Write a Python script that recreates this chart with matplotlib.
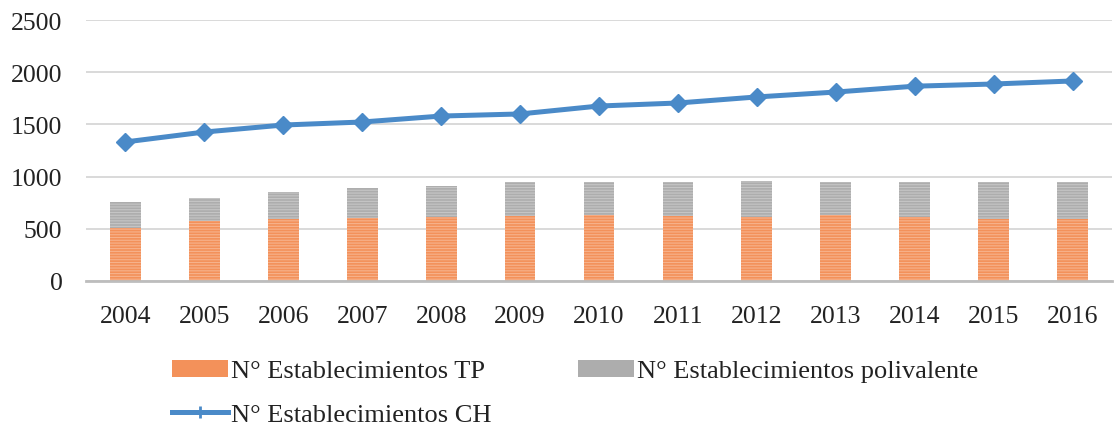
import matplotlib

matplotlib.use("Agg")
import matplotlib.pyplot as plt
import numpy as np
from matplotlib.lines import Line2D
from matplotlib.patches import Patch

years = ["2004", "2005", "2006", "2007", "2008", "2009", "2010",
         "2011", "2012", "2013", "2014", "2015", "2016"]
tp = [505, 575, 594, 603, 613, 623, 632, 623, 615, 632, 613, 594, 594]
polivalente = [252, 220, 259, 288, 297, 325, 318, 327, 340, 318, 337, 356, 356]
ch = [1332, 1427, 1494, 1523, 1580, 1600, 1676, 1705, 1763, 1810, 1866, 1887, 1916]

ORANGE = "#f3915a"
GRAY = "#adadad"
BLUE = "#4a8ac8"
TEXT = "#222222"

plt.rcParams["font.family"] = ["Liberation Serif", "DejaVu Serif"]
plt.rcParams["hatch.linewidth"] = 0.8

fig = plt.figure(figsize=(11.17, 4.27), dpi=100)
ax = fig.add_axes([0.077, 0.3396, 0.9185, 0.6112])

x = np.arange(len(years))
width = 0.39
ax.bar(x, tp, width, color=ORANGE, edgecolor=(1, 1, 1, 0.3), linewidth=0,
       hatch="------", zorder=2)
ax.bar(x, polivalente, width, bottom=tp, color=GRAY, edgecolor=(1, 1, 1, 0.3),
       linewidth=0, hatch="------", zorder=2)
ax.plot(x, ch, color=BLUE, linewidth=3.6, marker="D", markersize=9.5,
        markeredgecolor=BLUE, zorder=3)

ax.set_xlim(-0.5, len(years) - 0.5)
ax.set_ylim(0, 2500)
ax.set_yticks(np.arange(0, 2501, 500))
ax.set_xticks(x)
ax.set_xticklabels(years)
ax.tick_params(axis="both", length=0, labelsize=18.5, labelcolor=TEXT)
ax.tick_params(axis="x", pad=17)
ax.tick_params(axis="y", pad=17)
ax.grid(axis="y", color="#d9d9d9", linewidth=1.4, zorder=0)
ax.set_axisbelow(True)
for side in ("top", "right", "left"):
    ax.spines[side].set_visible(False)
ax.spines["bottom"].set_color("#bdbdbd")
ax.spines["bottom"].set_linewidth(2)

handles = [
    Patch(facecolor=ORANGE, label="N° Establecimientos TP"),
    Line2D([], [], color=BLUE, linewidth=3.6, marker="+", markersize=9,
           markeredgewidth=2, label="N° Establecimientos CH"),
    Patch(facecolor=GRAY, label="N° Establecimientos polivalente"),
]
fig.legend(handles=handles, ncol=2, loc="upper left",
           bbox_to_anchor=(0.154, 0.155), frameon=False, fontsize=19,
           labelcolor=TEXT, handlelength=2.12, handleheight=0.6,
           handletextpad=0.1, columnspacing=3.3, labelspacing=0.8,
           borderpad=0, borderaxespad=0)

fig.savefig("out.png", dpi=100)
